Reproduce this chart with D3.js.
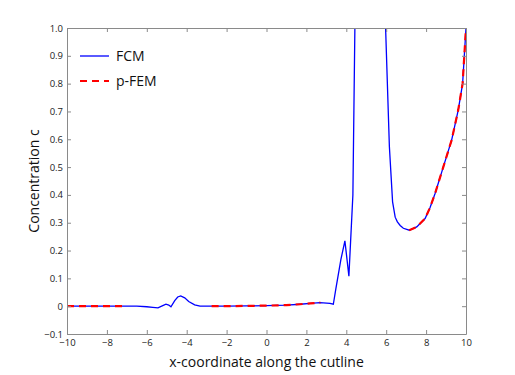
<!DOCTYPE html>
<html><head><meta charset="utf-8">
<script src="https://cdn.jsdelivr.net/npm/d3@7"></script>
<style>body{margin:0;background:#fff}svg{display:block}text{font-family:"Open Sans",sans-serif}</style>
</head><body>
<svg id="c" width="515" height="375"></svg>
<script>
const xTicks = [-10,-8,-6,-4,-2,0,2,4,6,8,10];
const xTickLabels = ["\u221210","\u22128","\u22126","\u22124","\u22122","0","2","4","6","8","10"];
const yTicks = [-0.1,0,0.1,0.2,0.3,0.4,0.5,0.6,0.7,0.8,0.9,1.0];
const yTickLabels = ["\u22120.1","0","0.1","0.2","0.3","0.4","0.5","0.6","0.7","0.8","0.9","1.0"];
const seriesNames = ["FCM","p-FEM"];
const fcmX = [-10,-9,-8,-7,-6.5,-6,-5.7,-5.44,-5.2,-5.04,-4.9,-4.79,-4.6,-4.45,-4.3,-4.1,-3.9,-3.6,-3.33,-3,-2,-1,0,1,1.68,2.2,2.68,3.18,3.35,3.48,3.73,3.93,4.13,4.33,4.53,5,5.5,5.85,5.97,6.16,6.32,6.45,6.56,6.7,6.86,7.16,7.53,7.95,8.2,8.45,8.86,9.28,9.61,9.83,10];
const fcmY = [0,0,0,0,0,-0.002,-0.004,-0.006,0.002,0.007,0.004,-0.002,0.02,0.033,0.037,0.03,0.017,0.005,0,0,0,0.001,0.002,0.004,0.007,0.01,0.013,0.01,0.007,0.064,0.168,0.235,0.108,0.40,1.6,3,3,1.6,1.0,0.573,0.375,0.32,0.303,0.29,0.28,0.273,0.285,0.315,0.355,0.405,0.50,0.597,0.705,0.80,1.0];
const pfemX = [-10,-9,-8,-7,null,-2.75,-2,-1,0,1,1.68,2.2,2.7,null,7.15,7.53,7.95,8.2,8.45,8.86,9.28,9.61,9.83,10];
const pfemY = [0,0,0,0,null,0,0,0.001,0.002,0.004,0.007,0.01,0.013,null,0.273,0.285,0.315,0.355,0.405,0.50,0.597,0.705,0.80,1.0];

const svg = d3.select("#c");
const L=67,R=466,T=28,B=334;
const x = d3.scaleLinear().domain([-10,10]).range([L,R]);
const y = d3.scaleLinear().domain([-0.1,1.0]).range([B,T]);
const axisCol="#8a8a8a";

svg.append("defs").append("clipPath").attr("id","clip").append("rect")
  .attr("x",L).attr("y",T).attr("width",R-L).attr("height",B-T);

const g = svg.append("g").attr("clip-path","url(#clip)");
const fcm = fcmX.map((v,i)=>[v,fcmY[i]]);
const pfem = pfemX.map((v,i)=>[v,pfemY[i]]);
const line = d3.line().defined(d=>d[0]!==null).x(d=>x(d[0])).y(d=>y(d[1]));
g.append("path").attr("d",line(fcm)).attr("fill","none").attr("stroke","#0000ff").attr("stroke-width",1.3);
g.append("path").attr("d",line(pfem)).attr("fill","none").attr("stroke","#ff0000").attr("stroke-width",2.2).attr("stroke-dasharray","7,5");

// axes
const fmtX = d=>xTickLabels[xTicks.indexOf(d)];
const fmtY = d=>yTickLabels[yTicks.indexOf(d)];
function style(a){a.select(".domain").attr("stroke",axisCol);a.selectAll(".tick line").attr("stroke",axisCol);a.selectAll("text").attr("fill","#222").style("font-size","9.5px").style("font-family","'Open Sans',sans-serif");}
svg.append("g").attr("transform",`translate(0,${B})`).call(d3.axisBottom(x).tickValues(xTicks).tickFormat(fmtX).tickSizeInner(-4).tickSizeOuter(0).tickPadding(5)).call(style);
svg.append("g").attr("transform",`translate(0,${T})`).call(d3.axisTop(x).tickValues(xTicks).tickFormat("").tickSizeInner(-4).tickSizeOuter(0)).call(style);
svg.append("g").attr("transform",`translate(${L},0)`).call(d3.axisLeft(y).tickValues(yTicks).tickFormat(fmtY).tickSizeInner(-4).tickSizeOuter(0).tickPadding(4)).call(style);
svg.append("g").attr("transform",`translate(${R},0)`).call(d3.axisRight(y).tickValues(yTicks).tickFormat("").tickSizeInner(-4).tickSizeOuter(0)).call(style);

// labels
svg.append("text").attr("x",(L+R)/2).attr("y",367).attr("text-anchor","middle").style("font-size","14px").attr("fill","#111").text("x-coordinate along the cutline");
svg.append("text").attr("transform",`translate(39,${(T+B)/2}) rotate(-90)`).attr("text-anchor","middle").style("font-size","14px").attr("fill","#111").text("Concentration c");

// legend
const leg = svg.append("g");
const cols=["#0000ff","#ff0000"], dash=[null,"7,5"], widths=[1.3,2.2];
seriesNames.forEach((n,i)=>{
  const yy = 56 + i*25;
  leg.append("line").attr("x1",80).attr("x2",109).attr("y1",yy).attr("y2",yy).attr("stroke",cols[i]).attr("stroke-width",widths[i]).attr("stroke-dasharray",dash[i]);
  leg.append("text").attr("x",116).attr("y",yy+5).style("font-size","14px").attr("fill","#111").text(n);
});
</script>
</body></html>
